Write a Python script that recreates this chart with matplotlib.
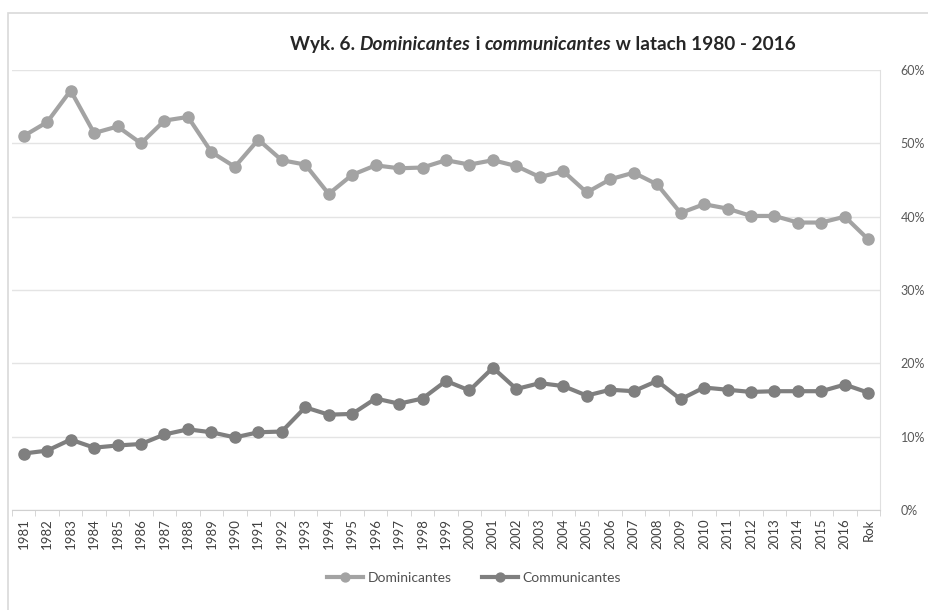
import matplotlib.pyplot as plt
from matplotlib.patches import Rectangle
from matplotlib.ticker import PercentFormatter, FixedLocator

plt.rcParams["font.family"] = ["Lato", "DejaVu Sans"]

# -------------------------------------------------
# DATA (in %)
# -------------------------------------------------
years = [str(y) for y in range(1981, 2017)] + ["Rok"]

dominicantes = [
    51.0, 52.9, 57.2, 51.4, 52.3, 50.0, 53.1, 53.6, 48.8, 46.8,
    50.5, 47.7, 47.1, 43.1, 45.7, 47.0, 46.6, 46.7, 47.7, 47.1,
    47.7, 46.9, 45.4, 46.2, 43.3, 45.1, 46.0, 44.4, 40.5, 41.7,
    41.1, 40.1, 40.1, 39.2, 39.2, 40.0, 36.9,
]

communicantes = [
    7.7, 8.1, 9.6, 8.5, 8.8, 9.0, 10.3, 11.0, 10.6, 9.9,
    10.6, 10.7, 14.0, 13.0, 13.1, 15.2, 14.5, 15.2, 17.6, 16.3,
    19.4, 16.5, 17.3, 16.9, 15.6, 16.4, 16.2, 17.6, 15.1, 16.7,
    16.4, 16.1, 16.2, 16.2, 16.2, 17.1, 16.0,
]

yticks = [0, 10, 20, 30, 40, 50, 60]

# -------------------------------------------------
# FIGURE
# -------------------------------------------------
fig = plt.figure(figsize=(9.29, 6.10), dpi=100)
fig.patches.append(Rectangle((8 / 929, -0.01), 1.0, 1 - 13 / 610 + 0.01,
                             transform=fig.transFigure, fill=False,
                             edgecolor="#d9d9d9", linewidth=1.2))

ax = fig.add_axes([12 / 929, 1 - 510 / 610, 868 / 929, 440 / 610])
x = list(range(len(years)))

ax.plot(x, dominicantes, color="#a3a3a3", linewidth=3, marker="o",
        markersize=8, label="Dominicantes", zorder=3)
ax.plot(x, communicantes, color="#7f7f7f", linewidth=3, marker="o",
        markersize=8, label="Communicantes", zorder=3)

ax.set_xlim(-0.5, len(years) - 0.5)
ax.set_ylim(0, 60)

# right-hand percent axis
ax.yaxis.tick_right()
ax.set_yticks(yticks)
ax.yaxis.set_major_formatter(PercentFormatter(decimals=0))
ax.tick_params(axis="y", length=0, pad=15, labelsize=9, labelcolor="#595959")
ax.grid(axis="y", color="#e4e4e4", linewidth=1)
ax.set_axisbelow(True)

# category axis
ax.set_xticks(x)
ax.set_xticklabels(years, rotation=90, fontsize=9.5, color="#404040")
ax.xaxis.set_minor_locator(FixedLocator([i - 0.5 for i in range(len(years) + 1)]))
ax.tick_params(axis="x", which="major", length=0, pad=6)
ax.tick_params(axis="x", which="minor", length=4, color="#d0d0d0")

for side in ["top", "left"]:
    ax.spines[side].set_visible(False)
ax.spines["bottom"].set_color("#d0d0d0")
ax.spines["right"].set_color("#e0e0e0")

# -------------------------------------------------
# TITLE (mixed bold / bold italic)
# -------------------------------------------------
parts = [("Wyk. 6. ", "normal"), ("Dominicantes", "italic"), (" i ", "normal"),
         ("communicantes", "italic"), (" w latach 1980 - 2016", "normal")]
t = fig.text(290 / 929, 1 - 50 / 610, parts[0][0], fontsize=13.7, weight="bold",
             color="#262626", style=parts[0][1])
for txt, st in parts[1:]:
    t = ax.annotate(txt, xycoords=t, xy=(1, 0), va="bottom", ha="left",
                    fontsize=13.7, weight="bold", color="#262626", style=st,
                    annotation_clip=False)

# -------------------------------------------------
# LEGEND
# -------------------------------------------------
fig.legend(loc="center", bbox_to_anchor=(474 / 929, 1 - 578 / 610), ncol=2,
           frameon=False, fontsize=10, labelcolor="#505050",
           handlelength=2.6, handletextpad=0.3, columnspacing=2.2,
           markerscale=0.8)

fig.savefig("out.png", dpi=100)
